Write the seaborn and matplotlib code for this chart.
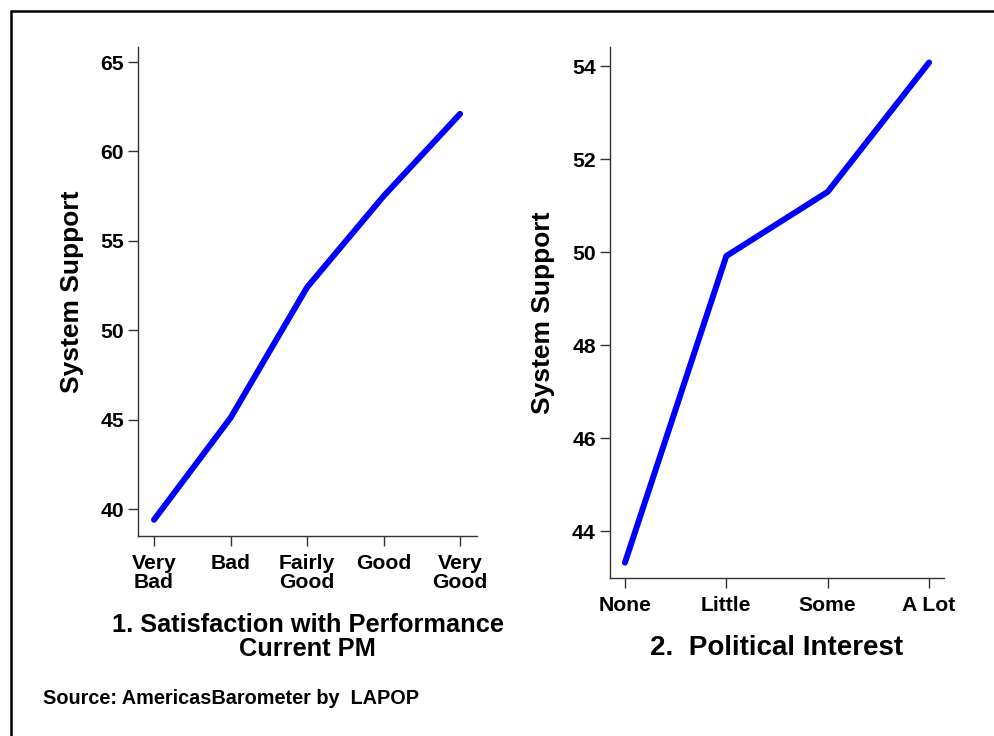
import pandas as pd
import matplotlib.pyplot as plt
import seaborn as sns
from matplotlib.patches import Rectangle

# data
pm_labels = ["Very\nBad", "Bad", "Fairly\nGood", "Good", "Very\nGood"]
pm_support = [39.4, 45.1, 52.4, 57.5, 62.1]

interest_labels = ["None", "Little", "Some", "A Lot"]
interest_support = [43.33, 49.92, 51.3, 54.08]

sns.set_style("ticks")
plt.rcParams["font.family"] = ["Liberation Sans", "DejaVu Sans"]
plt.rcParams["font.weight"] = "bold"
plt.rcParams["text.color"] = "black"
plt.rcParams["axes.labelcolor"] = "black"
plt.rcParams["xtick.labelcolor"] = "black"
plt.rcParams["ytick.labelcolor"] = "black"

df1 = pd.DataFrame({"cat": pm_labels, "support": pm_support})
df2 = pd.DataFrame({"cat": interest_labels, "support": interest_support})

fig = plt.figure(figsize=(9.94, 7.36), dpi=100)
ax1 = fig.add_axes([0.1388, 0.2717, 0.341, 0.6644])
ax2 = fig.add_axes([0.6134, 0.2147, 0.3366, 0.7219])

for ax, df in [(ax1, df1), (ax2, df2)]:
    sns.lineplot(data=df, x="cat", y="support", ax=ax, color="#0000ff",
                 linewidth=4.3, sort=False)
    ax.lines[0].set_solid_capstyle("round")
    ax.lines[0].set_solid_joinstyle("round")
    ax.set_xlabel("")
    ax.set_ylabel("System Support", fontsize=19, fontweight="bold", labelpad=12)
    sns.despine(ax=ax)
    for s in ["left", "bottom"]:
        ax.spines[s].set_linewidth(1.0)
        ax.spines[s].set_color("#333333")
    ax.tick_params(axis="both", length=7, width=1.0, color="#333333",
                   labelsize=15.2, labelcolor="black")
    ax.tick_params(axis="x", pad=6)
    ax.tick_params(axis="y", pad=3)
    for lab in ax.get_xticklabels():
        lab.set_linespacing(1.0)
        lab.set_fontweight("bold")
    for lab in ax.get_yticklabels():
        lab.set_fontweight("bold")

ax1.set_xlim(-0.21, 4.22)
ax1.set_ylim(38.49, 65.84)
ax1.set_yticks([40, 45, 50, 55, 60, 65])

ax2.set_xlim(-0.15, 3.15)
ax2.set_ylim(43.0, 54.42)
ax2.set_yticks([44, 46, 48, 50, 52, 54])

fig.text(307.5 / 994, 1 - 637 / 736, "1. Satisfaction with Performance\nCurrent PM",
         ha="center", va="center", fontsize=18.3, fontweight="bold", linespacing=0.95)
fig.text(777 / 994, 1 - 648 / 736, "2.  Political Interest",
         ha="center", va="center", fontsize=20, fontweight="bold")
fig.text(43 / 994, 1 - 699 / 736, "Source: AmericasBarometer by  LAPOP",
         ha="left", va="center", fontsize=14.3, fontweight="bold")

# frame around the graph (open on right and bottom, as in the image)
fig.add_artist(Rectangle((11 / 994, -0.1), 1.2, 1 - 11 / 736 + 0.1, fill=False,
                         lw=1.8, edgecolor="black", transform=fig.transFigure))

fig.savefig("out.png", dpi=100)
